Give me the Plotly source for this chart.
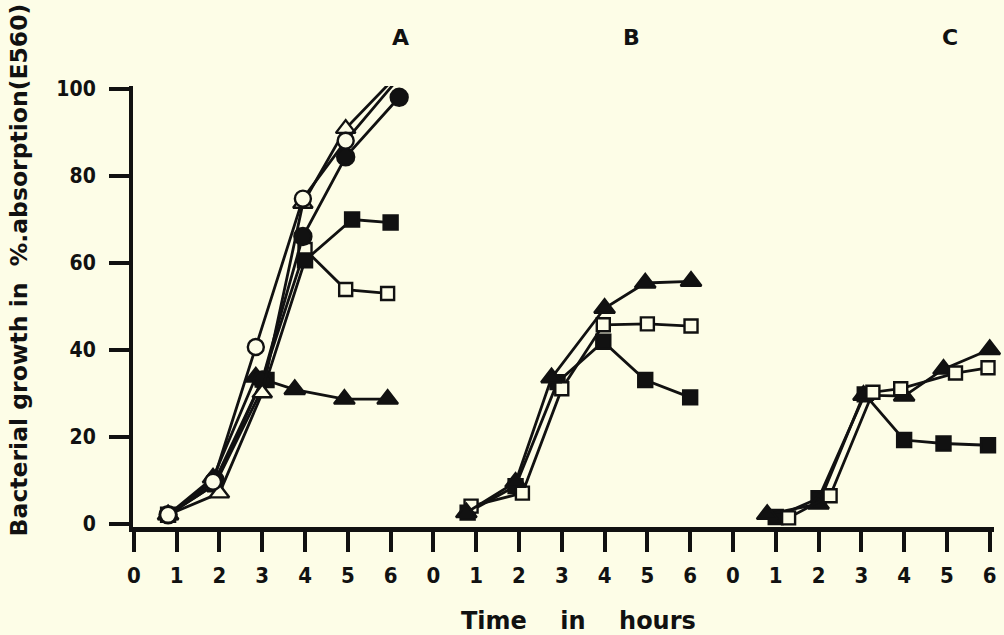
import plotly.graph_objects as go

# ---------- data ----------
panel_names = ["A", "B", "C"]
panel_offset = [0, 7, 14]          # each panel's 0-6 h block on a shared axis
tick_labels = [str(h) for h in range(7)] * 3

# Panel A (hours, % absorption)
A_open_circle_x = [0.8, 1.85, 2.85, 3.95, 4.95, 6.05]
A_open_circle_y = [2, 9.6, 40.6, 74.7, 88, 100.8]
A_filled_circle_x = [0.8, 1.9, 3.0, 3.95, 4.95, 6.2]
A_filled_circle_y = [2, 10, 33, 66, 84.3, 98]
A_open_triangle_x = [0.8, 2.0, 3.0, 3.95, 4.95, 5.95]
A_open_triangle_y = [2, 7, 30, 73.6, 90.8, 101]
A_filled_triangle_x = [0.8, 1.85, 2.85, 3.76, 4.92, 5.93]
A_filled_triangle_y = [2, 10.5, 33.7, 30.8, 28.6, 28.6]
A_open_square_x = [0.8, 1.9, 3.0, 4.0, 4.95, 5.93]
A_open_square_y = [2, 9, 33, 63, 53.8, 52.9]
A_filled_square_x = [0.8, 1.9, 3.1, 4.0, 5.1, 6.0]
A_filled_square_y = [2, 9, 33, 60.5, 69.9, 69.2]

# Panel B
B_filled_triangle_x = [0.77, 1.92, 2.76, 4.0, 4.95, 6.02]
B_filled_triangle_y = [2.5, 9.5, 33.5, 49.5, 55.3, 55.7]
B_open_square_x = [0.88, 2.08, 3.0, 3.97, 5.0, 6.02]
B_open_square_y = [4.0, 7.0, 31, 45.7, 45.9, 45.4]
B_filled_square_x = [0.8, 1.92, 2.9, 3.97, 4.95, 6.0]
B_filled_square_y = [2.5, 8.6, 32.5, 41.8, 33, 29]

# Panel C
C_filled_triangle_x = [0.8, 2.0, 3.05, 4.0, 4.92, 6.0]
C_filled_triangle_y = [2.1, 4.5, 29.5, 29.3, 35.5, 40.0]
C_open_square_x = [1.3, 2.27, 3.27, 3.92, 5.2, 5.96]
C_open_square_y = [1.3, 6.4, 30.2, 31.0, 34.6, 35.8]
C_filled_square_x = [1.0, 2.0, 3.08, 4.0, 4.92, 5.96]
C_filled_square_y = [1.5, 5.8, 29.7, 19.2, 18.4, 18.0]

y_ticks = [0, 20, 40, 60, 80, 100]

# ---------- styling ----------
BG = "#fdfde7"
INK = "#111111"
FONT = "Liberation Sans Narrow, DejaVu Sans Condensed, DejaVu Sans"
TITLE_FONT = "DejaVu Sans"
NB = "\u00a0"

styles = {
    "open_circle": dict(symbol="circle", size=16, color=BG),
    "filled_circle": dict(symbol="circle", size=17, color=INK),
    "open_triangle": dict(symbol="triangle-up", size=17, color=BG),
    "filled_triangle": dict(symbol="triangle-up", size=18, color=INK),
    "open_square": dict(symbol="square", size=13, color=BG),
    "filled_square": dict(symbol="square", size=14, color=INK),
}

series = [
    (0, "filled_triangle", A_filled_triangle_x, A_filled_triangle_y),
    (0, "open_square", A_open_square_x, A_open_square_y),
    (0, "filled_square", A_filled_square_x, A_filled_square_y),
    (0, "filled_circle", A_filled_circle_x, A_filled_circle_y),
    (0, "open_triangle", A_open_triangle_x, A_open_triangle_y),
    (0, "open_circle", A_open_circle_x, A_open_circle_y),
    (1, "filled_square", B_filled_square_x, B_filled_square_y),
    (1, "open_square", B_open_square_x, B_open_square_y),
    (1, "filled_triangle", B_filled_triangle_x, B_filled_triangle_y),
    (2, "filled_square", C_filled_square_x, C_filled_square_y),
    (2, "filled_triangle", C_filled_triangle_x, C_filled_triangle_y),
    (2, "open_square", C_open_square_x, C_open_square_y),
]

fig = go.Figure()
for panel, kind, xs, ys in series:
    st = styles[kind]
    fig.add_trace(go.Scatter(
        x=[panel_offset[panel] + v for v in xs],
        y=ys,
        mode="lines+markers",
        line=dict(color=INK, width=2.8),
        marker=dict(symbol=st["symbol"], size=st["size"], color=st["color"],
                    line=dict(color=INK, width=2.4)),
        cliponaxis=False,
        showlegend=False,
        hoverinfo="skip",
    ))

# panel letters (paper coordinates above the plot area)
letter_x = [0.298, 0.579, 0.960]
for name, lx in zip(panel_names, letter_x):
    fig.add_annotation(x=lx, y=1.11, xref="paper", yref="paper", text=name,
                       showarrow=False, yanchor="middle",
                       font=dict(family=TITLE_FONT, size=22, color=INK, weight="bold"))

fig.add_annotation(x=-0.133, y=0.583, xref="paper", yref="paper",
                   text="Bacterial growth in" + NB * 2 + "%.absorption(E560)",
                   textangle=-90, showarrow=False, xanchor="center", yanchor="middle",
                   font=dict(family=TITLE_FONT, size=23.5, color=INK, weight="bold"))
fig.add_annotation(x=0.517, y=-0.213, xref="paper", yref="paper",
                   text="Time" + NB * 4 + "in" + NB * 4 + "hours",
                   showarrow=False, yanchor="middle",
                   font=dict(family=TITLE_FONT, size=24, color=INK, weight="bold"))

fig.update_layout(
    width=1004, height=635,
    margin=dict(l=133, r=7, t=86, b=108),
    paper_bgcolor=BG, plot_bgcolor=BG,
    font=dict(family=FONT, color=INK),
    xaxis=dict(
        range=[-0.02, 20.1],
        tickmode="array",
        tickvals=list(range(21)),
        ticktext=tick_labels,
        ticks="outside", ticklen=20, tickwidth=4, tickcolor=INK,
        showline=True, linewidth=5, linecolor=INK,
        showgrid=False, zeroline=False,
        ticklabelstandoff=5,
        tickfont=dict(family=FONT, size=22, color=INK, weight="bold"),
    ),
    yaxis=dict(
        range=[-0.8, 100.6],
        tickmode="array",
        tickvals=y_ticks,
        ticks="outside", ticklen=20, tickwidth=4, tickcolor=INK,
        showline=True, linewidth=4, linecolor=INK,
        showgrid=False, zeroline=False,
        ticklabelstandoff=9,
        tickfont=dict(family=FONT, size=21, color=INK, weight="bold"),
    ),
)

fig.write_html(
    "out.html",
    config={"displayModeBar": False},
    post_script="document.body.style.margin='0';document.body.style.background='%s';" % BG,
)
